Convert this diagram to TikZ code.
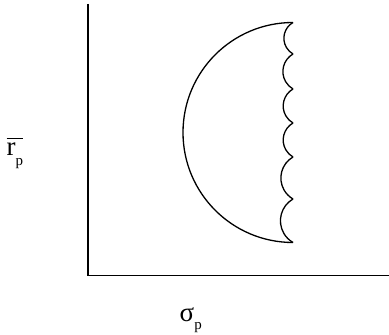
\documentclass[tikz,border=0pt]{standalone}
\usepackage{fontspec}
\setmainfont{Liberation Serif}
\usetikzlibrary{positioning}

\newcommand{\subp}[1]{\raisebox{#1}{\fontsize{15}{18}\selectfont p}}

\begin{document}
\begin{tikzpicture}[
  x=1pt, y=1pt,
  axis/.style={line width=1.5pt},
  curve/.style={line width=1.3pt, line join=round},
  lab/.style={font=\fontsize{27}{32}\selectfont, inner sep=0pt, anchor=base west}]
  \useasboundingbox (0,0) rectangle (389,335);
  % axes
  \coordinate (origin) at (88,59.5);
  \coordinate (ytop) at (88,331);
  \coordinate (xend) at (389,59.5);
  \draw[axis] (ytop) -- (origin) -- (xend);
  % frontier: arc on the left, scallops on the right
  \coordinate (top) at (293,312.5);
  \coordinate (bot) at (293,92.5);
  \draw[curve] (top) arc[start angle=90, end angle=270, radius=110];
  \foreach \ya/\yb in {312.5/281, 281/246, 246/212, 212/178, 178/136, 136/92.5}
    \draw[curve] (293,\ya) arc[start angle=120, end angle=240,
      radius={(\ya-\yb)/1.732}];
  % labels
  \node[lab] (ylab) at (6.5,179)
    {\rlap{\raisebox{17pt}{\rule{16pt}{1pt}}}r\subp{-10pt}};
  \node[lab] (xlab) at (179.5,13) {σ\subp{-8pt}};
\end{tikzpicture}
\end{document}
